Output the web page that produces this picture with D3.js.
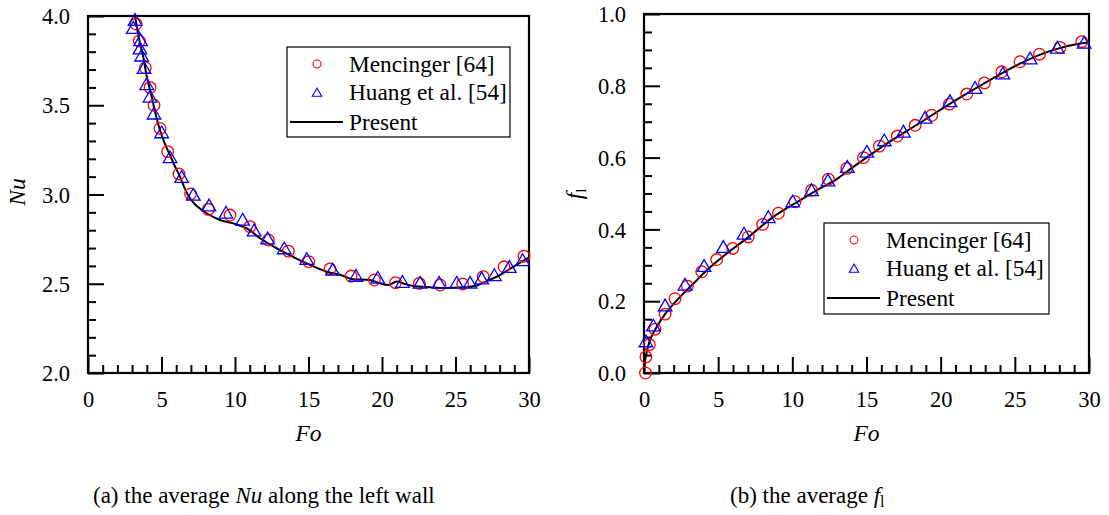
<!DOCTYPE html>
<html>
<head>
<meta charset="utf-8">
<script src="https://cdn.jsdelivr.net/npm/d3@7"></script>
<style>
  html, body { margin: 0; padding: 0; background: #fff; }
  svg, svg text { font-family: "Liberation Serif", "Times New Roman", "DejaVu Serif", serif; }
</style>
</head>
<body>
<svg id="chart" width="1109" height="515"></svg>
<script>
// ---- (a) average Nusselt number along the left wall vs Fourier number ----
const nuPresent = [
  [3.2, 4.0], [3.5, 3.86], [3.76, 3.77], [4.0, 3.66], [4.33, 3.55], [4.6, 3.45],
  [4.9, 3.36], [5.2, 3.29], [5.58, 3.22], [5.9, 3.16], [6.26, 3.10], [6.5, 3.05],
  [6.82, 2.995], [7.1, 2.962], [7.4, 2.935], [8.07, 2.895], [8.98, 2.857],
  [9.89, 2.838], [10.8, 2.81], [11.7, 2.755], [12.84, 2.698], [13.97, 2.65],
  [14.88, 2.614], [16.24, 2.567], [17.14, 2.55], [17.94, 2.527], [19.18, 2.521],
  [19.86, 2.502], [20.43, 2.493], [20.99, 2.512], [21.5, 2.50], [22.13, 2.487],
  [23.27, 2.48], [24.4, 2.476], [25.53, 2.48], [26.33, 2.487], [27.12, 2.515],
  [28.03, 2.549], [28.93, 2.595], [29.95, 2.645]
];
const nuMencinger = [
  [3.27, 3.955], [3.49, 3.86], [3.9, 3.71], [4.22, 3.60], [4.49, 3.50], [4.9, 3.37],
  [5.42, 3.24], [6.19, 3.115], [6.98, 3.003], [8.19, 2.917], [9.66, 2.885],
  [11.02, 2.82], [12.27, 2.745], [13.63, 2.683], [15.02, 2.624], [16.46, 2.583],
  [17.9, 2.543], [19.48, 2.521], [20.92, 2.506], [22.54, 2.502], [23.95, 2.493],
  [25.49, 2.499], [26.89, 2.54], [28.3, 2.595], [29.66, 2.655]
];
const nuHuang = [
  [3.08, 3.925], [3.2, 3.97], [3.54, 3.81], [3.58, 3.856], [3.65, 3.77], [3.81, 3.70],
  [3.99, 3.61], [4.22, 3.54], [4.49, 3.445], [5.01, 3.34], [5.58, 3.20], [6.37, 3.09],
  [7.16, 2.99], [8.23, 2.93], [9.39, 2.89], [10.52, 2.85], [11.3, 2.79], [12.22, 2.745],
  [13.35, 2.69], [14.88, 2.63], [16.64, 2.57], [18.23, 2.536], [19.71, 2.525],
  [21.39, 2.502], [22.59, 2.497], [23.88, 2.497], [25.08, 2.497], [25.99, 2.497],
  [26.78, 2.521], [27.64, 2.54], [28.66, 2.586], [29.57, 2.624]
];

// ---- (b) average liquid fraction vs Fourier number ----
const flPresent = [
  [0, 0], [0.05, 0.028], [0.13, 0.048], [0.4, 0.091], [0.85, 0.128], [1.53, 0.17],
  [2.43, 0.212], [3.33, 0.249], [4.23, 0.286], [5.58, 0.333], [6.93, 0.375],
  [8.72, 0.435], [10.52, 0.481], [11.87, 0.514], [12.99, 0.540], [14.11, 0.574],
  [16.36, 0.639], [18.61, 0.697], [20.86, 0.756], [23.11, 0.811], [25.35, 0.862],
  [27.6, 0.9], [29.4, 0.918], [30, 0.92]
];
const flMencinger = [
  [0.1, 0.0], [0.13, 0.045], [0.36, 0.079], [0.74, 0.122], [1.42, 0.164], [2.09, 0.207],
  [2.92, 0.242], [3.89, 0.282], [4.9, 0.316], [5.98, 0.347], [7.03, 0.379], [8.0, 0.414],
  [9.06, 0.445], [10.18, 0.477], [11.3, 0.509], [12.43, 0.54], [13.67, 0.57],
  [14.79, 0.60], [15.87, 0.632], [17.08, 0.66], [18.28, 0.69], [19.4, 0.718],
  [20.59, 0.749], [21.76, 0.777], [22.95, 0.808], [24.12, 0.839], [25.35, 0.867],
  [26.66, 0.888], [28.05, 0.907], [29.51, 0.923]
];
const flHuang = [
  [0.13, 0.084], [0.63, 0.128], [1.42, 0.184], [2.76, 0.242], [4.05, 0.294],
  [5.35, 0.347], [6.74, 0.384], [8.38, 0.43], [10.03, 0.474], [11.3, 0.505],
  [12.4, 0.532], [13.71, 0.57], [15.02, 0.612], [16.2, 0.644], [17.49, 0.668],
  [18.95, 0.707], [20.63, 0.753], [22.32, 0.79], [24.19, 0.83], [26.03, 0.872],
  [27.87, 0.902], [29.67, 0.916]
];

// axis ranges and tick values
const foDomain = [0, 30];
const foMajor = [0, 5, 10, 15, 20, 25, 30];
const nuDomain = [2.0, 4.0];
const nuMajor = [2.0, 2.5, 3.0, 3.5, 4.0];
const flDomain = [0, 1];
const flMajor = [0.0, 0.2, 0.4, 0.6, 0.8, 1.0];

const legendLabels = ["Mencinger [64]", "Huang et al. [54]", "Present"];

const svg = d3.select("#chart");
const FONT = '"Liberation Serif", "Times New Roman", "DejaVu Serif", serif';
const FS = 22.5;
const LFS = 23.3;

function panel(opts) {
  const { left, right, top, bottom, xDomain, yDomain, xMajor, yMajor, xMinorStep,
          yMinorStep, yFmt, present, circles, triangles, legendPos, id } = opts;
  const x = d3.scaleLinear().domain(xDomain).range([left, right]);
  const y = d3.scaleLinear().domain(yDomain).range([bottom, top]);
  const g = svg.append("g");

  g.append("clipPath").attr("id", id).append("rect")
    .attr("x", left).attr("y", top).attr("width", right - left).attr("height", bottom - top);

  // minor ticks (inward)
  const xMinor = d3.range(xDomain[0], xDomain[1] + 1e-9, xMinorStep)
    .filter(v => !xMajor.some(m => Math.abs(m - v) < 1e-9));
  const yMinor = d3.range(yDomain[0], yDomain[1] + 1e-9, yMinorStep)
    .filter(v => !yMajor.some(m => Math.abs(m - v) < 1e-9));

  const xAxisMajor = d3.axisBottom(x).tickValues(xMajor).tickSize(-16).tickFormat(d3.format("d")).tickPadding(20);
  const xAxisMinor = d3.axisBottom(x).tickValues(xMinor).tickSize(-8).tickFormat("");
  const yAxisMajor = d3.axisLeft(y).tickValues(yMajor).tickSize(-16).tickFormat(yFmt).tickPadding(18);
  const yAxisMinor = d3.axisLeft(y).tickValues(yMinor).tickSize(-8).tickFormat("");

  [xAxisMinor, xAxisMajor].forEach(ax => {
    const a = g.append("g").attr("transform", `translate(0,${bottom})`).call(ax)
      .attr("font-family", FONT);
    a.select(".domain").remove();
    a.selectAll("line").attr("stroke", "#000").attr("stroke-width", 2);
    a.selectAll("text").attr("font-size", FS).style("font-family", FONT)
      .attr("fill", "#000").attr("dy", "0.62em");
  });
  [yAxisMinor, yAxisMajor].forEach(ax => {
    const a = g.append("g").attr("transform", `translate(${left},0)`).call(ax)
      .attr("font-family", FONT);
    a.select(".domain").remove();
    a.selectAll("line").attr("stroke", "#000").attr("stroke-width", 2);
    a.selectAll("text").attr("font-size", FS).style("font-family", FONT)
      .attr("fill", "#000").attr("dy", "0.34em");
  });

  // frame
  g.append("rect").attr("x", left).attr("y", top)
    .attr("width", right - left).attr("height", bottom - top)
    .attr("fill", "none").attr("stroke", "#000").attr("stroke-width", 2.2);

  // present curve
  const line = d3.line().x(d => x(d[0])).y(d => y(d[1])).curve(d3.curveCatmullRom.alpha(0.5));
  g.append("path").datum(present).attr("d", line)
    .attr("fill", "none").attr("stroke", "#000").attr("stroke-width", 2)
    .attr("clip-path", `url(#${id})`);

  // reference data markers
  g.selectAll(".circ").data(circles).join("circle")
    .attr("cx", d => x(d[0])).attr("cy", d => y(d[1])).attr("r", 5.8)
    .attr("fill", "none").attr("stroke", "#ff0000").attr("stroke-width", 1.3);
  const tri = d3.symbol().type(d3.symbolTriangle).size(80);
  g.selectAll(".tri").data(triangles).join("path")
    .attr("d", tri).attr("transform", d => `translate(${x(d[0])},${y(d[1])})`)
    .attr("fill", "none").attr("stroke", "#0000ff").attr("stroke-width", 1.3);

  // legend
  const L = legendPos;
  const lg = g.append("g");
  lg.append("rect").attr("x", L.x0).attr("y", L.y0).attr("width", L.x1 - L.x0).attr("height", L.y1 - L.y0)
    .attr("fill", "#fff").attr("stroke", "#000").attr("stroke-width", 1.2);
  const rowY = [L.y0 + 17, L.y0 + 45.5, L.y0 + 75];
  lg.append("circle").attr("cx", L.x0 + 30).attr("cy", rowY[0]).attr("r", 4)
    .attr("fill", "none").attr("stroke", "#ff0000").attr("stroke-width", 1.1);
  lg.append("path").attr("d", d3.symbol().type(d3.symbolTriangle).size(38))
    .attr("transform", `translate(${L.x0 + 30},${rowY[1] + 1})`)
    .attr("fill", "none").attr("stroke", "#0000ff").attr("stroke-width", 1.1);
  lg.append("line").attr("x1", L.x0 + 3).attr("x2", L.x0 + 56).attr("y1", rowY[2]).attr("y2", rowY[2])
    .attr("stroke", "#000").attr("stroke-width", 2);
  legendLabels.forEach((t, i) => {
    lg.append("text").attr("x", L.x0 + 62).attr("y", rowY[i]).attr("dy", "0.34em")
      .attr("font-size", LFS).style("font-family", FONT).attr("fill", "#000").text(t);
  });

  // x axis title
  g.append("text").attr("x", (left + right) / 2).attr("y", 441)
    .attr("text-anchor", "middle").attr("font-size", FS + 1).style("font-family", FONT)
    .attr("font-style", "italic").text("Fo");
  return { x, y, g };
}

const A = panel({
  id: "clipA", left: 88, right: 529, top: 16, bottom: 373,
  xDomain: foDomain, yDomain: nuDomain, xMajor: foMajor, yMajor: nuMajor,
  xMinorStep: 1, yMinorStep: 0.1, yFmt: d3.format(".1f"),
  present: nuPresent, circles: nuMencinger, triangles: nuHuang,
  legendPos: { x0: 287, y0: 47, x1: 510, y1: 137 }
});
const B = panel({
  id: "clipB", left: 644, right: 1089, top: 14, bottom: 373,
  xDomain: foDomain, yDomain: flDomain, xMajor: foMajor, yMajor: flMajor,
  xMinorStep: 1, yMinorStep: 0.05, yFmt: d3.format(".1f"),
  present: flPresent, circles: flMencinger, triangles: flHuang,
  legendPos: { x0: 824, y0: 223, x1: 1049, y1: 314 }
});

// y axis titles
svg.append("text").attr("transform", "translate(25,192) rotate(-90)")
  .attr("text-anchor", "middle").attr("font-size", FS + 1).style("font-family", FONT)
  .attr("font-style", "italic").text("Nu");
const fl = svg.append("text").attr("transform", "translate(582,194) rotate(-90)")
  .attr("text-anchor", "middle").attr("font-size", FS + 1).style("font-family", FONT);
fl.append("tspan").attr("font-style", "italic").text("f");
fl.append("tspan").attr("font-size", 15).attr("dy", 4).text("l");

// captions
const capA = svg.append("text").attr("x", 93).attr("y", 503).attr("font-size", 23).style("font-family", FONT);
capA.append("tspan").text("(a) the average ");
capA.append("tspan").attr("font-style", "italic").text("Nu");
capA.append("tspan").text(" along the left wall");
const capB = svg.append("text").attr("x", 730).attr("y", 503).attr("font-size", 23).style("font-family", FONT);
capB.append("tspan").text("(b) the average ");
capB.append("tspan").attr("font-style", "italic").text("f");
capB.append("tspan").attr("font-size", 16).attr("dy", 4).text("l");
</script>
</body>
</html>
